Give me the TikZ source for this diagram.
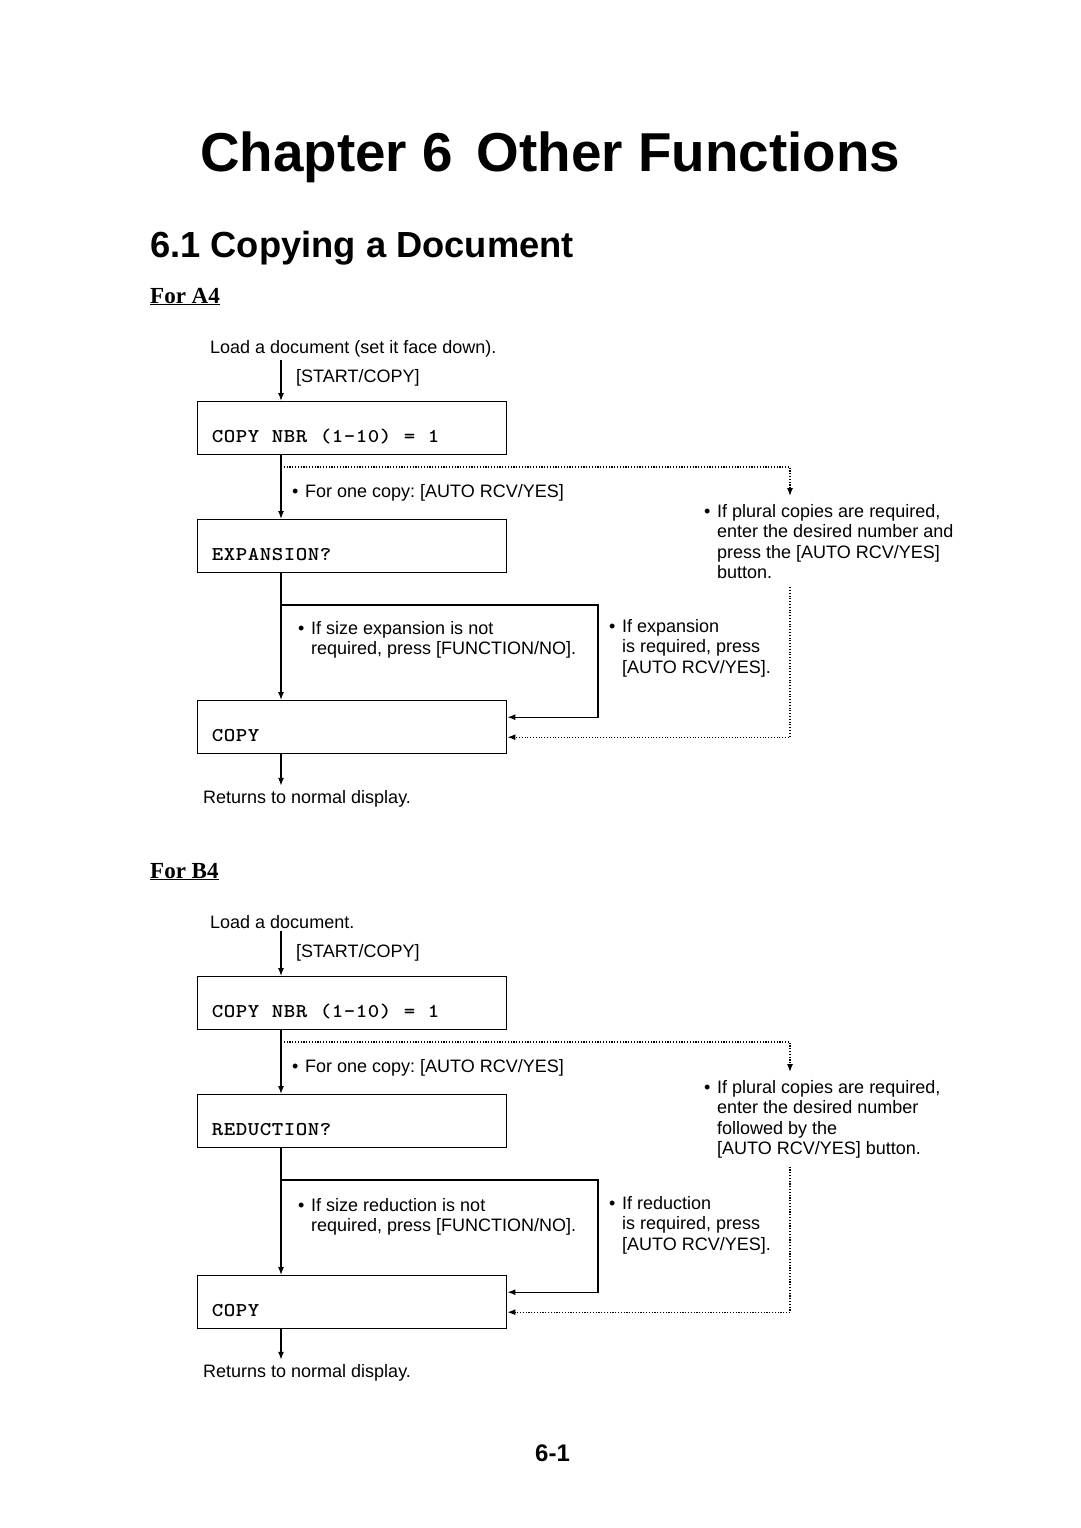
\documentclass[tikz,border=0pt]{standalone}
\usepackage{fontspec}
\usepackage{graphicx}
\setmainfont{Liberation Sans}
\newfontfamily\headserif{Liberation Serif}
\usetikzlibrary{arrows.meta,calc}
\newcommand\mybul{\makebox[13pt][l]{\textbullet}}
\newcommand\myind{\hspace*{13pt}}
\makeatletter
\newcommand\mono[1]{\mono@step#1\@nil}
\def\mono@step#1{\ifx#1\@nil\else\makebox[12pt][c]{\scalebox{1.12}[1]{#1}}\expandafter\mono@step\fi}
\makeatother
\frenchspacing
\begin{document}
\begin{tikzpicture}[x=1pt,y=-1pt,
  tip/.style={-{Latex[length=8pt,width=6pt]}},
  arr/.style={tip, line width=1.3pt},
  dotl/.style={line width=1.2pt, dash pattern=on 1.1pt off 1.7pt},
  dotarr/.style={dotl, tip},
  lcd/.style={draw, line width=1.4pt, minimum width=309pt, minimum height=53pt,
    text width=281pt, inner xsep=14pt, inner ysep=3pt, text height=38pt, text depth=9pt,
    align=left, anchor=north west, font=\fontsize{19.5}{19.5}\ttfamily\bfseries},
  body/.style={inner sep=0pt, anchor=base west, font=\fontsize{18}{20.5}\selectfont},
  bl/.style={inner sep=0pt, anchor=north west, align=left, font=\fontsize{18}{20.5}\selectfont},
  hd/.style={inner sep=0pt, anchor=base west, font=\fontsize{54.8}{60}\bfseries},
  hs/.style={inner sep=0pt, anchor=base west, font=\fontsize{36.3}{40}\bfseries},
  hf/.style={inner sep=0pt, anchor=base west, font=\fontsize{23}{26}\headserif\bfseries},
]
\useasboundingbox (0,0) rectangle (1080,1528);
\node[hd] (title) at (200,171) {Chapter 6\hspace{24pt}Other Functions};
\node[hs] (sect) at (150,257) {6.1 Copying a Document};
\node[hf] (fora) at (150,303) {\underline{For A4}};

% ---------------- A4 ----------------
\coordinate (ta) at (281,0);
\coordinate (da) at (790,467);
\coordinate (ka) at (598,605);
\node[body] (loada) at (210,353) {Load a document (set it face down).};
\node[body] (keya) at (296,382) {[START/COPY]};
\node[lcd] (a1) at (197,401) {\mono{COPY~NBR~(1-10)~=~1}};
\node[body] (onea) at (292,497) {\mybul For one copy: [AUTO RCV/YES]};
\node[lcd] (a2) at (197,519) {\mono{EXPANSION?}};
\node[bl] (plurala) at (704,504) {\mybul If plural copies are required,\\ \myind enter the desired number and\\ \myind press the [AUTO RCV/YES]\\ \myind button.};
\node[bl] (noa) at (298,621) {\mybul If size expansion is not\\ \myind required, press [FUNCTION/NO].};
\node[bl] (yesa) at (609,619) {\mybul If expansion\\ \myind is required, press\\ \myind [AUTO RCV/YES].};
\node[lcd] (a4) at (197,700) {\mono{COPY}};
\node[body] (reta) at (203,803) {Returns to normal display.};

\draw[arr] ($(ta |- loada.south)+(0,3)$) -- (ta |- a1.north);
\draw[arr] (ta |- a1.south) -- (ta |- a2.north);
\draw[dotarr] (ta |- da) -- (da) -- ($(da |- plurala.north)+(0,-8)$);
\draw[arr] (ta |- a2.south) -- (ta |- a4.north);
\draw[arr] (ta |- ka) -- (ka) |- ([yshift=10pt]a4.east);
\draw[dotarr] ($(da |- plurala.south)+(0,8)$) |- ([yshift=-10pt]a4.east);
\draw[arr] (ta |- a4.south) -- ($(ta |- reta.north)+(0,-4)$);

% ---------------- B4 ----------------
\node[hf] (forb) at (150,878) {\underline{For B4}};
\coordinate (tb) at (281,0);
\coordinate (db) at (790,1042);
\coordinate (kb) at (598,1180);
\node[body] (loadb) at (210,928) {Load a document.};
\node[body] (keyb) at (296,957) {[START/COPY]};
\node[lcd] (b1) at (197,976) {\mono{COPY~NBR~(1-10)~=~1}};
\node[body] (oneb) at (292,1072) {\mybul For one copy: [AUTO RCV/YES]};
\node[lcd] (b2) at (197,1094) {\mono{REDUCTION?}};
\node[bl] (pluralb) at (704,1080) {\mybul If plural copies are required,\\ \myind enter the desired number\\ \myind followed by the\\ \myind [AUTO RCV/YES] button.};
\node[bl] (nob) at (298,1198) {\mybul If size reduction is not\\ \myind required, press [FUNCTION/NO].};
\node[bl] (yesb) at (609,1196) {\mybul If reduction\\ \myind is required, press\\ \myind [AUTO RCV/YES].};
\node[lcd] (b4) at (197,1275) {\mono{COPY}};
\node[body] (retb) at (203,1377) {Returns to normal display.};

\draw[arr] ($(tb |- loadb.south)+(0,3)$) -- (tb |- b1.north);
\draw[arr] (tb |- b1.south) -- (tb |- b2.north);
\draw[dotarr] (tb |- db) -- (db) -- ($(db |- pluralb.north)+(0,-8)$);
\draw[arr] (tb |- b2.south) -- (tb |- b4.north);
\draw[arr] (tb |- kb) -- (kb) |- ([yshift=10pt]b4.east);
\draw[dotarr] ($(db |- pluralb.south)+(0,8)$) |- ([yshift=-10pt]b4.east);
\draw[arr] (tb |- b4.south) -- ($(tb |- retb.north)+(0,-4)$);

\node[inner sep=0pt, anchor=base west, font=\fontsize{24}{26}\bfseries] (page) at (535,1461) {6-1};
\end{tikzpicture}
\end{document}
